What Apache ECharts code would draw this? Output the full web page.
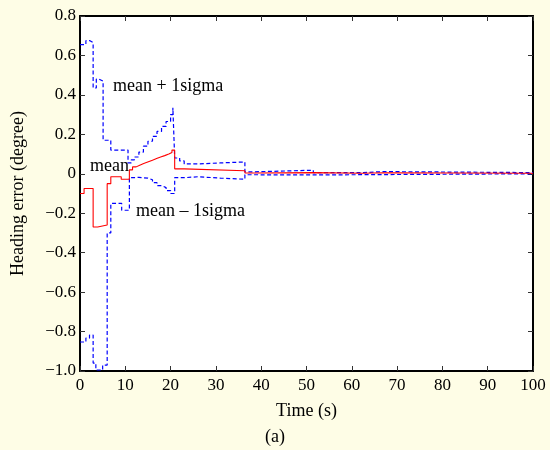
<!DOCTYPE html>
<html>
<head>
<meta charset="utf-8">
<script src="https://cdn.jsdelivr.net/npm/echarts@6/dist/echarts.min.js"></script>
<style>
html,body{margin:0;padding:0;background:#FEFDE6;}
#chart{width:550px;height:450px;}
</style>
</head>
<body>
<div id="chart"></div>
<script>
// Time breakpoints (s) and values (degree); each value holds until the next breakpoint
var meanT  = [0, 0.9, 2.9, 3.9, 6.0, 6.8, 9.1, 10.9, 11.6, 12.4, 13.3, 14.2, 15.1, 16.0, 16.9, 17.8, 18.7, 19.6, 20.3, 20.9, 23, 36.4, 38.6, 51.5, 62.5, 67, 100];
var meanV  = [-0.10, -0.075, -0.27, -0.26, -0.05, -0.015, -0.028, 0.02, 0.035, 0.045, 0.053, 0.061, 0.069, 0.077, 0.085, 0.092, 0.10, 0.108, 0.12, 0.025, 0.015, 0.004, 0.006, 0.003, 0.005, 0.003, 0.003];

var upperT = [0, 1.3, 2.2, 2.9, 3.6, 4.2, 5.1, 6.8, 10.6, 11.3, 12, 13, 14, 15, 16, 17, 18, 19, 20, 20.5, 20.9, 22, 23, 26, 31, 36.4, 38.6, 51.5, 62.5, 67, 100];
var upperV = [0.655, 0.675, 0.665, 0.435, 0.48, 0.47, 0.17, 0.12, 0.055, 0.07, 0.085, 0.11, 0.14, 0.165, 0.19, 0.215, 0.24, 0.265, 0.30, 0.335, 0.08, 0.065, 0.05, 0.055, 0.06, 0.01, 0.018, 0.006, 0.011, 0.006, 0.006];

var lowerT = [0, 1.3, 2.1, 2.9, 3.5, 5.0, 6.0, 6.8, 9.2, 10.9, 12, 13, 14, 15, 16, 17, 18, 19, 20, 20.9, 23, 26, 31, 36.4, 38.6, 51.5, 100];
var lowerV = [-0.853, -0.833, -0.818, -0.96, -0.995, -0.97, -0.30, -0.15, -0.185, -0.02, -0.018, -0.02, -0.022, -0.03, -0.045, -0.06, -0.07, -0.085, -0.10, -0.02, -0.015, -0.022, -0.028, -0.005, -0.006, 0.0, 0.0];

var xTicks = [0, 10, 20, 30, 40, 50, 60, 70, 80, 90, 100];
var yTicks = [-1.0, -0.8, -0.6, -0.4, -0.2, 0, 0.2, 0.4, 0.6, 0.8];

var labels = {
  upper: 'mean + 1sigma',
  mean: 'mean',
  lower: 'mean \u2013 1sigma',
  xName: 'Time (s)',
  yName: 'Heading error (degree)',
  caption: '(a)'
};

function zip(t, v) { return t.map(function (x, i) { return [x, v[i]]; }); }

var FONT = '"Liberation Serif", "Times New Roman", serif';
var chart = echarts.init(document.getElementById('chart'), null, {renderer: 'canvas'});

function yFmt(v) {
  var r = Math.round(v * 10) / 10;
  if (r === 0) return '0';
  var s = Math.abs(r).toFixed(1);
  return (r < 0 ? '\u2212' : '') + s;
}

var axisCommon = {
  axisLine: {show: true, onZero: false, lineStyle: {color: '#000', width: 2}},
  axisTick: {show: true, inside: true, length: 5, lineStyle: {color: '#333', width: 1}},
  splitLine: {show: false}
};

chart.setOption({
  backgroundColor: '#FEFDE6',
  animation: false,
  grid: {left: 80, right: 17, top: 16, bottom: 79, show: true, backgroundColor: '#fff', borderWidth: 0},
  xAxis: [
    Object.assign({}, axisCommon, {
      type: 'value', min: xTicks[0], max: xTicks[xTicks.length - 1], interval: 10, position: 'bottom',
      name: labels.xName, nameLocation: 'middle', nameGap: 31,
      nameTextStyle: {fontFamily: FONT, fontSize: 18, color: '#000'},
      axisLabel: {fontFamily: FONT, fontSize: 17, color: '#000', margin: 6}
    }),
    Object.assign({}, axisCommon, {
      type: 'value', min: xTicks[0], max: xTicks[xTicks.length - 1], interval: 10, position: 'top',
      axisLabel: {show: false}
    })
  ],
  yAxis: [
    Object.assign({}, axisCommon, {
      type: 'value', min: yTicks[0], max: yTicks[yTicks.length - 1], interval: 0.2, position: 'left',
      name: labels.yName, nameLocation: 'middle', nameGap: 53, nameRotate: 90,
      nameTextStyle: {fontFamily: FONT, fontSize: 18, color: '#000'},
      axisLabel: {fontFamily: FONT, fontSize: 17, color: '#000', margin: 4, formatter: yFmt}
    }),
    Object.assign({}, axisCommon, {
      type: 'value', min: yTicks[0], max: yTicks[yTicks.length - 1], interval: 0.2, position: 'right',
      axisLabel: {show: false}
    })
  ],
  series: [
    {
      type: 'line', step: 'end', data: zip(upperT, upperV), showSymbol: false, symbol: 'none',
      lineStyle: {color: '#0000FF', width: 1.2, type: [4, 2.5]}, z: 3
    },
    {
      type: 'line', step: 'end', data: zip(lowerT, lowerV), showSymbol: false, symbol: 'none',
      lineStyle: {color: '#0000FF', width: 1.2, type: [4, 2.5]}, z: 3
    },
    {
      type: 'line', step: 'end', data: zip(meanT, meanV), showSymbol: false, symbol: 'none',
      lineStyle: {color: '#FF0000', width: 1.1}, z: 4
    }
  ],
  graphic: [
    {type: 'text', left: 113, top: 77, z: 10, style: {text: labels.upper, font: '18px ' + FONT, fill: '#000'}},
    {type: 'text', left: 90, top: 157, z: 10, style: {text: labels.mean, font: '18px ' + FONT, fill: '#000'}},
    {type: 'text', left: 136, top: 202, z: 10, style: {text: labels.lower, font: '18px ' + FONT, fill: '#000'}},
    {type: 'text', left: 'center', top: 428, style: {text: labels.caption, font: '18px ' + FONT, fill: '#000'}}
  ]
});
</script>
</body>
</html>
